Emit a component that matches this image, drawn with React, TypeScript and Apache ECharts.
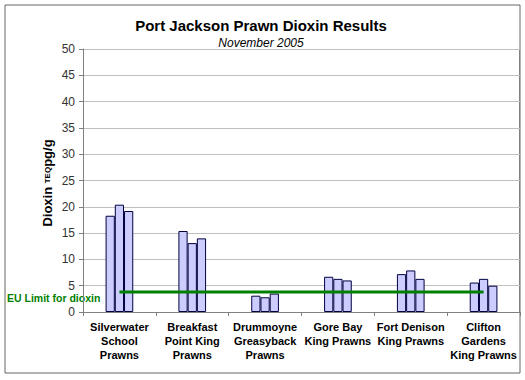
import React, { useEffect, useRef } from "react";
import * as echarts from "echarts";

const categories = [
  "Silverwater\nSchool\nPrawns",
  "Breakfast\nPoint King\nPrawns",
  "Drummoyne\nGreasyback\nPrawns",
  "Gore Bay\nKing Prawns",
  "Fort Denison\nKing Prawns",
  "Clifton\nGardens\nKing Prawns",
];
const sample1 = [18.3, 15.4, 3.1, 6.7, 7.2, 5.6];
const sample2 = [20.4, 13.1, 2.8, 6.3, 7.9, 6.3];
const sample3 = [19.2, 14.0, 3.5, 6.0, 6.3, 5.0];
const euLimit = [3.8, 3.8, 3.8, 3.8, 3.8, 3.8];

export default function App() {
  const ref = useRef<HTMLDivElement>(null);
  useEffect(() => {
    if (!ref.current) return;
    const chart = echarts.init(ref.current, null, { renderer: "svg" });
    const FF = "Arial, Liberation Sans, sans-serif";
    const barStyle = {
      color: "#CCCCFF",
      borderColor: "#000040",
      borderWidth: 1,
    };
    const bar = (name: string, data: number[]) => ({
      name,
      type: "bar",
      data,
      barGap: "0%",
      barCategoryGap: "62%",
      itemStyle: barStyle,
      silent: true,
    });
    chart.setOption({
      animation: false,
      backgroundColor: "#ffffff",
      textStyle: { fontFamily: FF },
      title: [
        {
          text: "Port Jackson Prawn Dioxin Results",
          left: 261,
          top: 18,
          padding: 0,
          textAlign: "center",
          textStyle: { fontSize: 15, fontWeight: "bold", color: "#000", fontFamily: FF },
        },
        {
          text: "November 2005",
          left: 261,
          top: 37,
          padding: 0,
          textAlign: "center",
          textStyle: { fontSize: 12, fontStyle: "italic", fontWeight: "normal", color: "#000", fontFamily: FF },
        },
      ],
      grid: { left: 83, right: 5, top: 49, bottom: 68, containLabel: false },
      xAxis: {
        type: "category",
        data: categories,
        axisLine: { lineStyle: { color: "#808080", width: 1 } },
        axisTick: { show: true, length: 4, lineStyle: { color: "#808080" } },
        axisLabel: {
          interval: 0,
          fontSize: 11,
          fontWeight: "bold",
          color: "#000",
          lineHeight: 14,
          margin: 8,
          fontFamily: FF,
        },
      },
      yAxis: {
        type: "value",
        min: 0,
        max: 50,
        interval: 5,
        axisLine: { show: true, lineStyle: { color: "#808080" } },
        axisTick: { show: true, length: 4, lineStyle: { color: "#808080" } },
        axisLabel: { fontSize: 12, color: "#333", margin: 8, fontFamily: FF },
        splitLine: { show: true, lineStyle: { color: "#c0c0c0", width: 1 } },
      },
      series: [
        bar("Sample 1", sample1),
        bar("Sample 2", sample2),
        bar("Sample 3", sample3),
        {
          name: "EU Limit for dioxin",
          type: "line",
          data: euLimit,
          symbol: "none",
          lineStyle: { color: "#008000", width: 3 },
          silent: true,
          z: 5,
        },
      ],
      graphic: [
        {
          type: "rect",
          shape: { x: 5, y: 5, width: 515, height: 368 },
          style: { fill: "none", stroke: "#666", lineWidth: 1 },
          silent: true,
        },
        {
          type: "line",
          shape: { x1: 519.5, y1: 49, x2: 519.5, y2: 312 },
          style: { stroke: "#808080", lineWidth: 1 },
          silent: true,
        },
        {
          type: "text",
          x: 47,
          y: 183,
          rotation: Math.PI / 2,
          style: {
            text: "{a|Dioxin }{s|TEQ}{a|pg/g}",
            align: "center",
            verticalAlign: "middle",
            rich: {
              a: { fontSize: 13, fontWeight: "bold", fill: "#000", fontFamily: FF },
              s: { fontSize: 8, fontWeight: "bold", fill: "#000", fontFamily: FF },
            },
          },
          silent: true,
        },
        {
          type: "text",
          x: 7,
          y: 298,
          style: {
            text: "EU Limit for dioxin",
            fill: "#008000",
            fontSize: 10.5,
            fontWeight: "bold",
            fontFamily: FF,
            align: "left",
            verticalAlign: "middle",
          },
          silent: true,
        },
      ],
    });
    return () => chart.dispose();
  }, []);
  return (
    <div
      ref={ref}
      style={{ position: "fixed", left: 0, top: 0, width: 525, height: 380 }}
    />
  );
}
